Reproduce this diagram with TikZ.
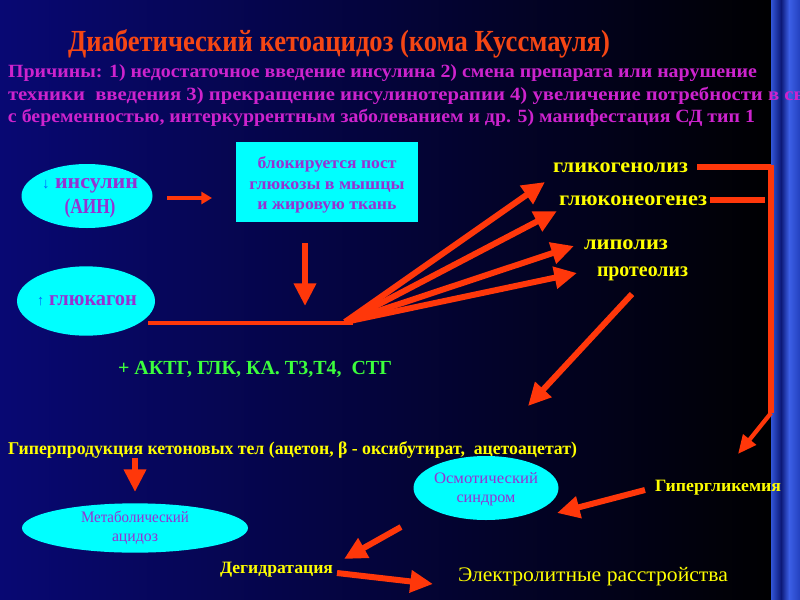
\documentclass[tikz,border=0pt]{standalone}
\usepackage{fontspec}
\setmainfont{Liberation Serif}
\usetikzlibrary{arrows.meta,shapes.geometric}
\newdimen\pxu \pxu=0.75pt
\newcommand\fitw[2]{\resizebox{#1\pxu}{\height}{#2}}
\definecolor{bgL}{RGB}{8,8,115}
\definecolor{titlered}{RGB}{245,70,20}
\definecolor{arrred}{RGB}{255,55,10}
\definecolor{causemag}{RGB}{205,35,205}
\definecolor{purp}{RGB}{150,50,210}
\definecolor{cyanfill}{RGB}{0,255,255}
\definecolor{ylw}{RGB}{255,255,0}
\definecolor{grn}{RGB}{60,255,60}
\definecolor{stripA}{RGB}{50,85,215}
\definecolor{stripD}{RGB}{12,25,120}
\definecolor{stripB}{RGB}{60,95,230}
\definecolor{stripC}{RGB}{35,65,190}
\tikzset{
  txt/.style={anchor=west, inner sep=0pt, outer sep=0pt},
  bold/.style={font=\bfseries\fontsize{#1}{#1}\selectfont},
  plain/.style={font=\fontsize{#1}{#1}\selectfont},
  ell/.style={ellipse, fill=cyanfill, draw=none, inner sep=0pt, minimum width=#1},
  bar/.style={draw=arrred, line width=5.2pt},
  arr/.style={draw=arrred, line width=4.5pt, -{Triangle[length=17pt,width=16pt]}},
  arrsmall/.style={draw=arrred, line width=3pt, -{Triangle[length=8pt,width=9pt]}},
}
\begin{document}
\begin{tikzpicture}[x=0.75pt,y=-0.75pt]
\useasboundingbox (0,0) rectangle (800,600);
\clip (0,0) rectangle (800,600);
% background
\shade[left color=bgL, right color=black] (0,0) rectangle (780,600);
\shade[left color=stripA, right color=stripD] (771,0) rectangle (781,600);
\shade[left color=stripD, right color=stripB] (781,0) rectangle (789,600);
\shade[left color=stripB, right color=stripC] (789,0) rectangle (800,600);

% title and causes
\node[txt, bold=23pt, text=titlered] (title) at (68,44) {\fitw{542}{Диабетический кетоацидоз (кома Куссмауля)}};
\node[txt, bold=14pt, text=causemag] (c1) at (8,73) {\fitw{749}{Причины: 1) недостаточное введение инсулина 2) смена препарата или нарушение}};
\node[txt, bold=14pt, text=causemag] (c2) at (8,96) {\fitw{828}{техники\ \ введения 3) прекращение инсулинотерапии 4) увеличение потребности в связи}};
\node[txt, bold=14pt, text=causemag] (c3) at (8,118) {\fitw{747}{с беременностью, интеркуррентным заболеванием и др. 5) манифестация СД тип 1}};

% ellipses and box
\node[ell=131pt*0.75, minimum height=48pt] (ins) at (87,196) {};
\node[bold=16pt, text=purp, align=center, inner sep=0pt] (inst) at (90,198) {\fitw{96}{{\fontsize{11pt}{11pt}\selectfont\color{blue!60!cyan}↓} инсулин}\\[3pt]\fitw{51}{(АИН)}};
\node[ell=138pt*0.75, minimum height=52pt] (glu) at (86,301) {};
\node[bold=16pt, text=purp, inner sep=0pt] (glut) at (87,301) {\fitw{100}{{\fontsize{11pt}{11pt}\selectfont\color{blue!60!cyan}↑} глюкагон}};
\node[fill=cyanfill, minimum width=137pt, minimum height=60pt, inner sep=0pt] (box) at (327,182) {};
\node[bold=12.5pt, text=purp, align=center, inner sep=0pt] (boxt) at (327,185) {\fitw{139}{блокируется пост}\\[3pt]\fitw{155}{глюкозы в мышцы}\\[3pt]\fitw{139}{и жировую ткань}};

\coordinate (a1s) at (167,198);
\coordinate (a1e) at (212,198);
\draw[arrsmall] (a1s) -- (a1e);
\coordinate (d1s) at (305,243);
\coordinate (d1e) at (305,306);
\draw[arr] (d1s) -- (d1e);

% hub line
\coordinate (lineL) at (148,323);
\coordinate (hub) at (353,323);
\draw[draw=arrred, line width=3.2pt] (lineL) -- (hub);
\coordinate (hubO) at (345,322);

% yellow labels
\node[txt, bold=15.5pt, text=ylw] (gkg) at (553,168) {\fitw{135}{гликогенолиз}};
\node[txt, bold=15.5pt, text=ylw] (gng) at (559,201) {\fitw{148}{глюконеогенез}};
\node[txt, bold=15.5pt, text=ylw] (lip) at (584,245) {\fitw{84}{липолиз}};
\node[txt, bold=15.5pt, text=ylw] (prt) at (597,274) {\fitw{91}{протеолиз}};

\coordinate (t1) at (545,182);
\coordinate (t2) at (557,211);
\coordinate (t3) at (574,246);
\coordinate (t4) at (577,273);
\draw[arr] (hubO) -- (t1);
\draw[arr] (hubO) -- (t2);
\draw[arr] (hubO) -- (t3);
\draw[arr] (hubO) -- (t4);

% right bracket
\coordinate (b1) at (697,167);
\coordinate (b2) at (710,200);
\coordinate (bt) at (771,167);
\coordinate (bm) at (765,200);
\coordinate (bb) at (771,413);
\coordinate (btop) at (771,164.5);
\draw[bar] (b1) -- (bt);
\draw[bar] (b2) -- (bm);
\draw[draw=arrred, line width=4.5pt] (btop) -- (bb);
\coordinate (bte) at (738,454);
\draw[draw=arrred, line width=3.2pt, -{Triangle[length=14pt,width=12pt]}] (bb) -- (bte);

% proteolysis down arrow
\coordinate (ps) at (632,294);
\coordinate (pe) at (528,406);
\draw[arr] (ps) -- (pe);

% green
\node[txt, bold=15pt, text=grn] (hor) at (118,369) {\fitw{274}{+ АКТГ, ГЛК, КА. Т3,Т4,\ \ СТГ}};

% ketone line
\node[txt, bold=13.5pt, text=ylw] (ket) at (8,450) {\fitw{569}{Гиперпродукция кетоновых тел (ацетон, β - оксибутират,\ \ ацетоацетат)}};
\coordinate (ks) at (135,458);
\coordinate (ke) at (135,492);
\draw[arr] (ks) -- (ke);

% metabolic acidosis
\node[ell=226pt*0.75, minimum height=37pt] (met) at (135,528) {};
\node[plain=12pt, text=purp, align=center, inner sep=0pt] (mett) at (135,528) {\fitw{108}{Метаболический}\\[2pt]\fitw{46}{ацидоз}};

% osmotic
\node[ell=145pt*0.75, minimum height=48pt] (osm) at (486,488) {};
\node[plain=12pt, text=purp, align=center, inner sep=0pt] (osmt) at (486,489) {\fitw{104}{Осмотический}\\[2pt]\fitw{59}{синдром}};

\node[txt, bold=13pt, text=ylw] (hyp) at (655,488) {\fitw{126}{Гипергликемия}};
\coordinate (hs) at (645,490);
\coordinate (he) at (557,513);
\draw[arr] (hs) -- (he);

\coordinate (os) at (401,527);
\coordinate (oe) at (344,559);
\draw[arr] (os) -- (oe);

\node[txt, bold=13pt, text=ylw] (deh) at (220,570) {\fitw{113}{Дегидратация}};
\coordinate (ds) at (337,573);
\coordinate (de) at (433,584);
\draw[arr] (ds) -- (de);

\node[txt, plain=15.5pt, text=ylw] (el) at (458,577) {\fitw{270}{Электролитные расстройства}};
\end{tikzpicture}
\end{document}
